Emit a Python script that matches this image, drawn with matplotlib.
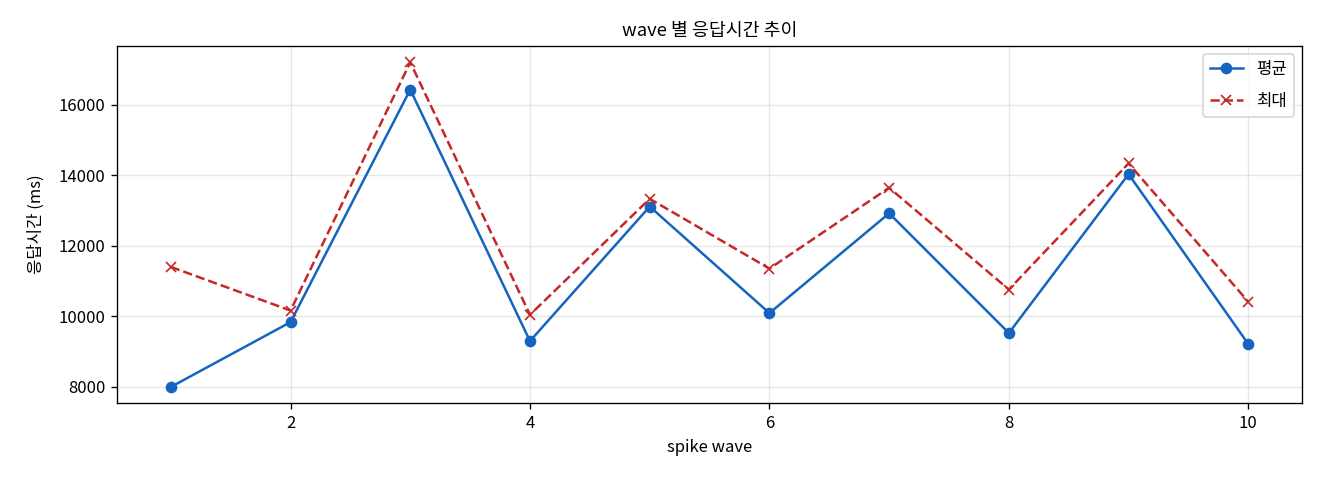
import numpy as np
import matplotlib
matplotlib.use('Agg')
import matplotlib.pyplot as plt

plt.rcParams['font.family'] = ['Noto Sans CJK KR', 'DejaVu Sans']
plt.rcParams['axes.unicode_minus'] = False

# -- 데이터
waves = [1, 2, 3, 4, 5, 6, 7, 8, 9, 10]
avg_ms = [8000, 9837, 16424, 9300, 13110, 10092, 12919, 9527, 14028, 9216]
max_ms = [11400, 10165, 17196, 10044, 13330, 11353, 13643, 10760, 14332, 10412]

fig, ax = plt.subplots(figsize=(11, 4), dpi=120)

ax.plot(waves, avg_ms, marker='o', linestyle='-', color='#1565C0',
        linewidth=1.5, markersize=6, label='평균')
ax.plot(waves, max_ms, marker='x', linestyle='--', color='#C62828',
        linewidth=1.5, markersize=6, label='최대')

ax.set_title('wave 별 응답시간 추이', fontsize=11)
ax.set_xlabel('spike wave', fontsize=10)
ax.set_ylabel('응답시간 (ms)', fontsize=10, labelpad=8)
ax.grid(True, alpha=0.3)
ax.legend(loc='upper right', labelspacing=0.9)

fig.subplots_adjust(left=0.0886, right=0.9865, top=0.904, bottom=0.16)
fig.savefig('out.png', dpi=120)
